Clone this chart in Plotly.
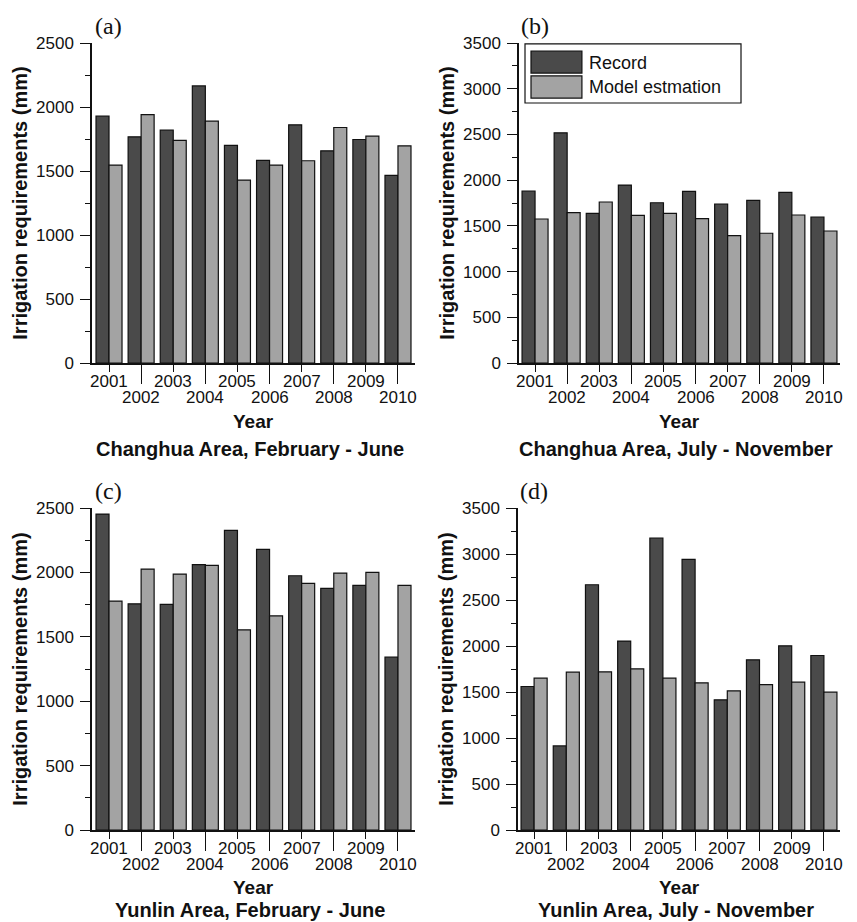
import plotly.graph_objects as go

years = [2001, 2002, 2003, 2004, 2005, 2006, 2007, 2008, 2009, 2010]
odd_years = [2001, 2003, 2005, 2007, 2009]
even_years = [2002, 2004, 2006, 2008, 2010]

# Panel (a) Changhua, February - June
a_record = [1928, 1767, 1819, 2165, 1700, 1583, 1861, 1658, 1746, 1466]
a_model = [1546, 1941, 1739, 1889, 1429, 1546, 1580, 1840, 1772, 1697]
# Panel (b) Changhua, July - November
b_record = [1881, 2518, 1637, 1946, 1753, 1877, 1739, 1779, 1866, 1597]
b_model = [1575, 1644, 1761, 1615, 1637, 1579, 1393, 1419, 1619, 1444]
# Panel (c) Yunlin, February - June
c_record = [2453, 1756, 1751, 2060, 2326, 2179, 1974, 1876, 1899, 1342]
c_model = [1777, 2026, 1987, 2054, 1554, 1663, 1915, 1995, 2000, 1899]
# Panel (d) Yunlin, July - November
d_record = [1560, 914, 2666, 2053, 3174, 2942, 1415, 1850, 2002, 1897]
d_model = [1650, 1716, 1719, 1752, 1650, 1600, 1513, 1581, 1607, 1498]

panel_labels = ["(a)", "(b)", "(c)", "(d)"]
captions = ["Changhua Area, February - June", "Changhua Area, July - November",
            "Yunlin Area, February - June", "Yunlin Area, July - November"]
y_max = [2500, 3500, 2500, 3500]
series_names = ["Record", "Model estmation"]

REC_COLOR = "#4a4a4a"
MOD_COLOR = "#a3a3a3"
SANS = "Liberation Sans, Arial, sans-serif"
SERIF = "Liberation Serif, Times New Roman, serif"

# the page body has an 8px margin, so the figure is laid out 8px smaller
OFF = 8
W, H = 857 - OFF, 922 - OFF
# pixel boxes of each plot area in window coords: (left, right, top, bottom)
boxes_win = [(92, 415, 43, 363), (519, 840, 43, 363), (92, 415, 508, 830), (518, 840, 508, 830)]
boxes = [(l - OFF, r - OFF, t - OFF, b - OFF) for (l, r, t, b) in boxes_win]
xranges = [[2000.47, 2010.53], [2000.5, 2010.5], [2000.47, 2010.53], [2000.5, 2010.5]]

fig = go.Figure()
data = [(a_record, a_model), (b_record, b_model), (c_record, c_model), (d_record, d_model)]
for i, (rec, mod) in enumerate(data):
    sfx = "" if i == 0 else str(i + 1)
    for name, vals, col in [(series_names[0], rec, REC_COLOR), (series_names[1], mod, MOD_COLOR)]:
        fig.add_trace(go.Bar(
            x=years, y=vals, name=name, xaxis="x" + sfx, yaxis="y" + sfx,
            marker=dict(color=col, line=dict(color="#111111", width=1.2)),
            showlegend=False, offsetgroup=name,
        ))

layout = dict(
    width=W, height=H, margin=dict(l=0, r=0, t=0, b=0, autoexpand=False),
    paper_bgcolor="white", plot_bgcolor="white",
    barmode="group", bargap=0.19, bargroupgap=0,
    font=dict(family=SANS, size=17, color="#111111"),
    showlegend=False,
)
annotations = []
shapes = []
for i in range(4):
    l, r, t, b = boxes[i]
    sfx = "" if i == 0 else str(i + 1)
    xd = [l / W, r / W]
    yd = [(H - b) / H, (H - t) / H]
    layout["xaxis" + sfx] = dict(
        domain=xd, anchor="y" + sfx, range=xranges[i], type="linear",
        tickmode="array", tickvals=odd_years, showticklabels=False,
        ticks="outside", ticklen=7, tickwidth=1.2, tickcolor="#111111",
        showline=True, linecolor="#111111", linewidth=1.5,
        showgrid=False, zeroline=False, automargin=False,
        minor=dict(tickmode="array", tickvals=even_years, ticks="outside",
                   ticklen=19, tickwidth=1.2, tickcolor="#111111", showgrid=False),
        fixedrange=True,
    )
    layout["yaxis" + sfx] = dict(
        domain=yd, anchor="x" + sfx, range=[0, y_max[i]],
        tickmode="linear", tick0=0, dtick=500,
        ticks="outside", ticklen=10, tickwidth=1.2, tickcolor="#111111",
        showline=True, linecolor="#111111", linewidth=1.5,
        showgrid=False, zeroline=False, automargin=False,
        tickfont=dict(size=17, family=SANS), ticklabelstandoff=3,
        minor=dict(dtick=250, ticks="outside", ticklen=5, tickwidth=1.2,
                   tickcolor="#111111", showgrid=False),
        title=dict(text="Irrigation requirements (mm)",
                   font=dict(size=20, family=SANS, weight="bold"), standoff=3),
        fixedrange=True,
    )
    xref_ax = "x" + sfx
    yref_dom = ("y" + sfx) + " domain"
    xref_dom = ("x" + sfx) + " domain"
    # staggered year labels (odd on first row, even on second row)
    for yv in years:
        shift = -18 if yv in odd_years else -34
        annotations.append(dict(
            x=yv, y=0, xref=xref_ax, yref=yref_dom,
            text=str(yv), showarrow=False, yanchor="middle", yshift=shift,
            font=dict(size=17, family=SANS, color="#111111"),
        ))
    # axis title "Year"
    annotations.append(dict(
        x=0.5, y=0, xref=xref_dom, yref=yref_dom, text="<b>Year</b>", showarrow=False,
        xanchor="center", yanchor="middle", yshift=-(58 if i < 2 else 57),
        font=dict(size=19, family=SANS, color="#111111"),
    ))
    # panel label
    annotations.append(dict(
        x=0.05, y=1, xref=xref_dom, yref=yref_dom, yshift=17,
        text=panel_labels[i], showarrow=False, xanchor="center", yanchor="middle",
        font=dict(size=24, family=SERIF, color="#111111"),
    ))
    # caption
    annotations.append(dict(
        x=0.49, y=0, xref=xref_dom, yref=yref_dom, yshift=-(86 if i < 2 else 80),
        text="<b>" + captions[i] + "</b>", showarrow=False, xanchor="center", yanchor="middle",
        font=dict(size=20, family=SANS, color="#111111"),
    ))

# legend for panel (b), drawn as a box inside the plot area
lx = "x2 domain"
ly = "y2 domain"
shapes.append(dict(type="rect", xref=lx, yref=ly, x0=0.0187, x1=0.6916, y0=0.8125, y1=0.997,
                   line=dict(color="#111111", width=1.2), fillcolor="white", layer="above"))
shapes.append(dict(type="rect", xref=lx, yref=ly, x0=0.0374, x1=0.196, y0=0.906, y1=0.975,
                   line=dict(color="#111111", width=1.2), fillcolor=REC_COLOR, layer="above"))
shapes.append(dict(type="rect", xref=lx, yref=ly, x0=0.0374, x1=0.196, y0=0.828, y1=0.897,
                   line=dict(color="#111111", width=1.2), fillcolor=MOD_COLOR, layer="above"))
annotations.append(dict(x=0.212, y=0.9375, xref=lx, yref=ly, text=series_names[0], showarrow=False,
                        xanchor="left", yanchor="middle", font=dict(size=18, family=SANS, color="#111111")))
annotations.append(dict(x=0.212, y=0.8625, xref=lx, yref=ly, text=series_names[1], showarrow=False,
                        xanchor="left", yanchor="middle", font=dict(size=18, family=SANS, color="#111111")))

layout["annotations"] = annotations
layout["shapes"] = shapes
fig.update_layout(**layout)
fig.write_html("out.html")
